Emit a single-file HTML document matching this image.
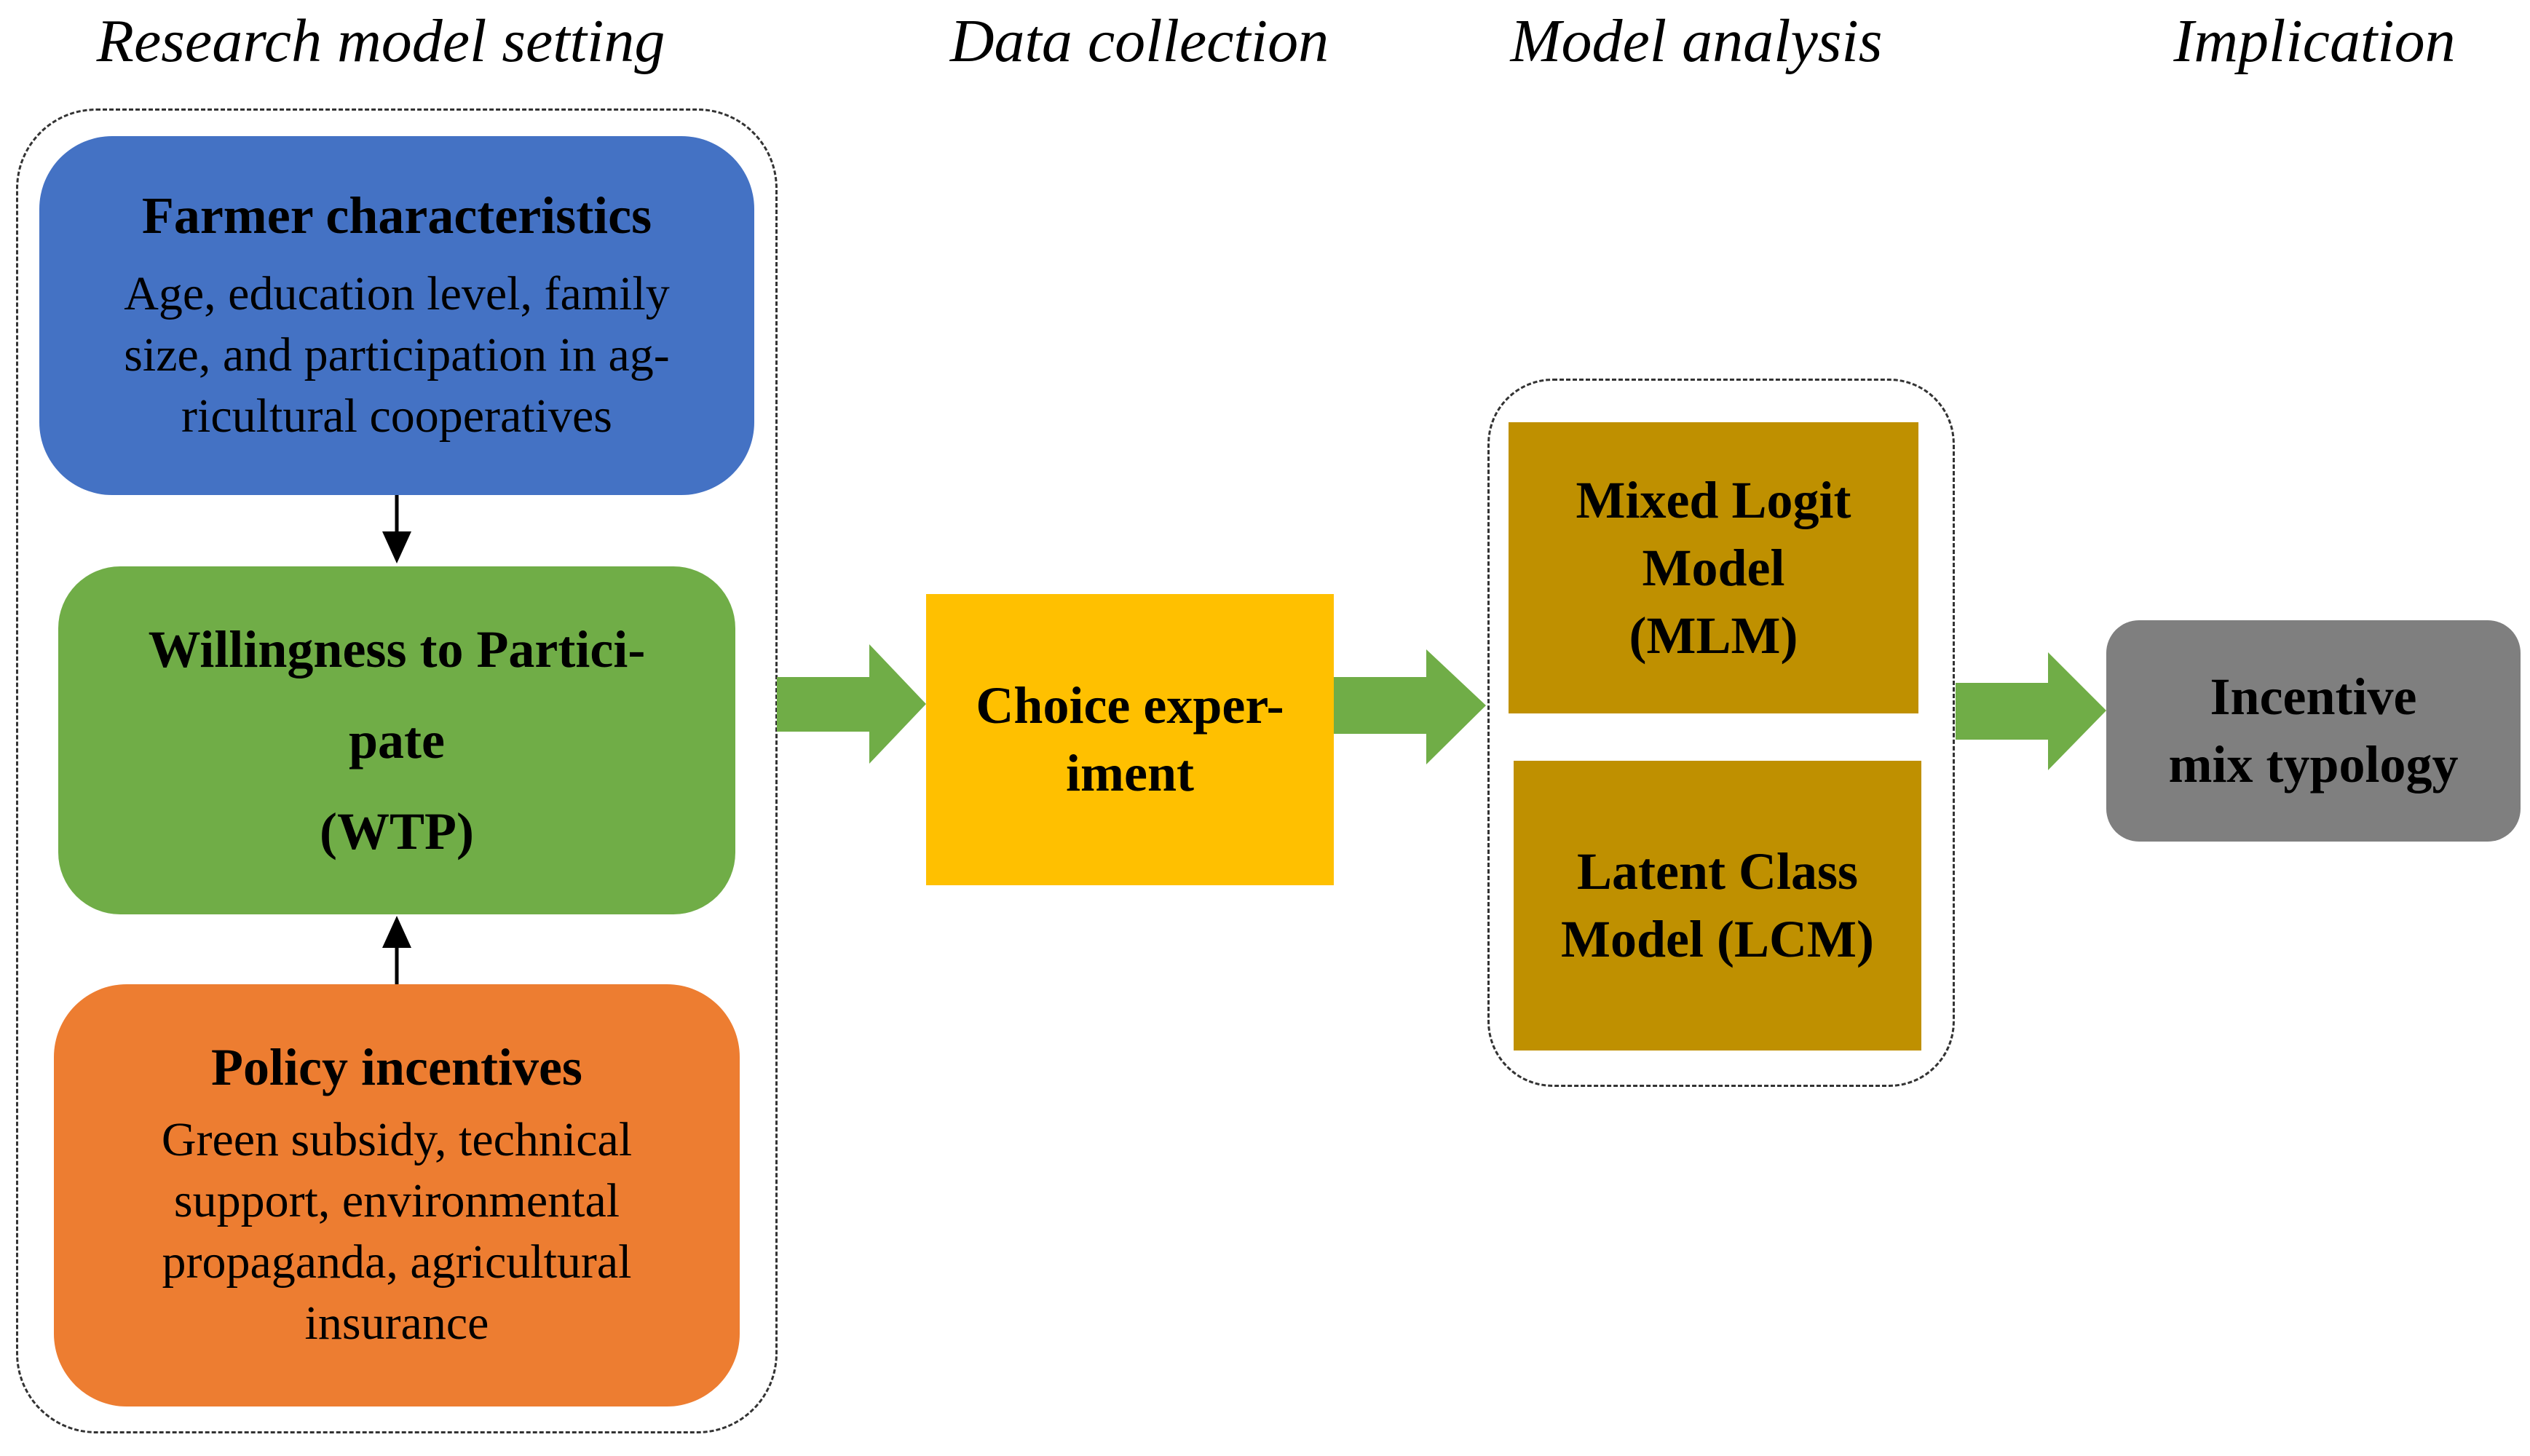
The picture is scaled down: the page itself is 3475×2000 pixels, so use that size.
<!DOCTYPE html>
<html><head><meta charset="utf-8"><style>
html,body{margin:0;padding:0;background:#fff;}
body{width:3475px;height:2000px;position:relative;overflow:hidden;font-family:"Liberation Serif",serif;color:#000;}
.a{position:absolute;box-sizing:border-box;}
.h{position:absolute;font-style:italic;font-size:84px;white-space:nowrap;transform:translateX(-50%);top:8px;}
.box{position:absolute;box-sizing:border-box;display:flex;flex-direction:column;align-items:center;justify-content:center;text-align:center;white-space:nowrap;}
.t{font-weight:bold;font-size:72px;}
.b{font-size:66px;}
</style></head><body>
<div class="h" style="left:523px">Research model setting</div>
<div class="h" style="left:1565px">Data collection</div>
<div class="h" style="left:2330px">Model analysis</div>
<div class="h" style="left:3179px">Implication</div>

<div class="a" style="left:22px;top:149px;width:1046px;height:1820px;border:3px dashed #333;border-radius:110px;"></div>
<div class="a" style="left:2043px;top:520px;width:642px;height:973px;border:3px dashed #333;border-radius:90px;"></div>

<div class="box" style="left:54px;top:187px;width:982px;height:493px;background:#4472C4;border-radius:100px;">
<div class="t" style="line-height:84px">Farmer characteristics</div>
<div class="b" style="line-height:84px;margin-top:24px">Age, education level, family<br>size, and participation in ag-<br>ricultural cooperatives</div>
</div>

<div class="box" style="left:80px;top:778px;width:930px;height:478px;background:#70AD47;border-radius:85px;">
<div class="t" style="line-height:125px">Willingness to Partici-<br>pate<br>(WTP)</div>
</div>

<div class="box" style="left:74px;top:1352px;width:942px;height:580px;background:#ED7D31;border-radius:100px;">
<div class="t" style="line-height:84px">Policy incentives</div>
<div class="b" style="line-height:84px;margin-top:16px">Green subsidy, technical<br>support, environmental<br>propaganda, agricultural<br>insurance</div>
</div>

<div class="box" style="left:1272px;top:816px;width:560px;height:400px;background:#FFC000;">
<div class="t" style="line-height:93px">Choice exper-<br>iment</div>
</div>

<div class="box" style="left:2072px;top:580px;width:563px;height:400px;background:#BF9000;">
<div class="t" style="line-height:93px">Mixed Logit<br>Model<br>(MLM)</div>
</div>
<div class="box" style="left:2079px;top:1045px;width:560px;height:398px;background:#BF9000;">
<div class="t" style="line-height:93px">Latent Class<br>Model (LCM)</div>
</div>

<div class="box" style="left:2893px;top:852px;width:569px;height:304px;background:#7F7F7F;border-radius:45px;">
<div class="t" style="line-height:93px">Incentive<br>mix typology</div>
</div>

<svg class="a" style="left:0;top:0" width="3475" height="2000">
<g fill="#70AD47">
<polygon points="1067,930 1194,930 1194,885 1272,967 1194,1049 1194,1005 1067,1005"/>
<polygon points="1832,930 1959,930 1959,892 2041,969 1959,1050 1959,1008 1832,1008"/>
<polygon points="2686,938 2813,938 2813,896 2893,976 2813,1058 2813,1016 2686,1016"/>
</g>
<g stroke="#000" stroke-width="5"><line x1="545" y1="680" x2="545" y2="740"/><line x1="545" y1="1352" x2="545" y2="1292"/></g>
<polygon points="525,730 565,730 545,774" fill="#000"/>
<polygon points="525,1302 565,1302 545,1258" fill="#000"/>
</svg>
</body></html>
